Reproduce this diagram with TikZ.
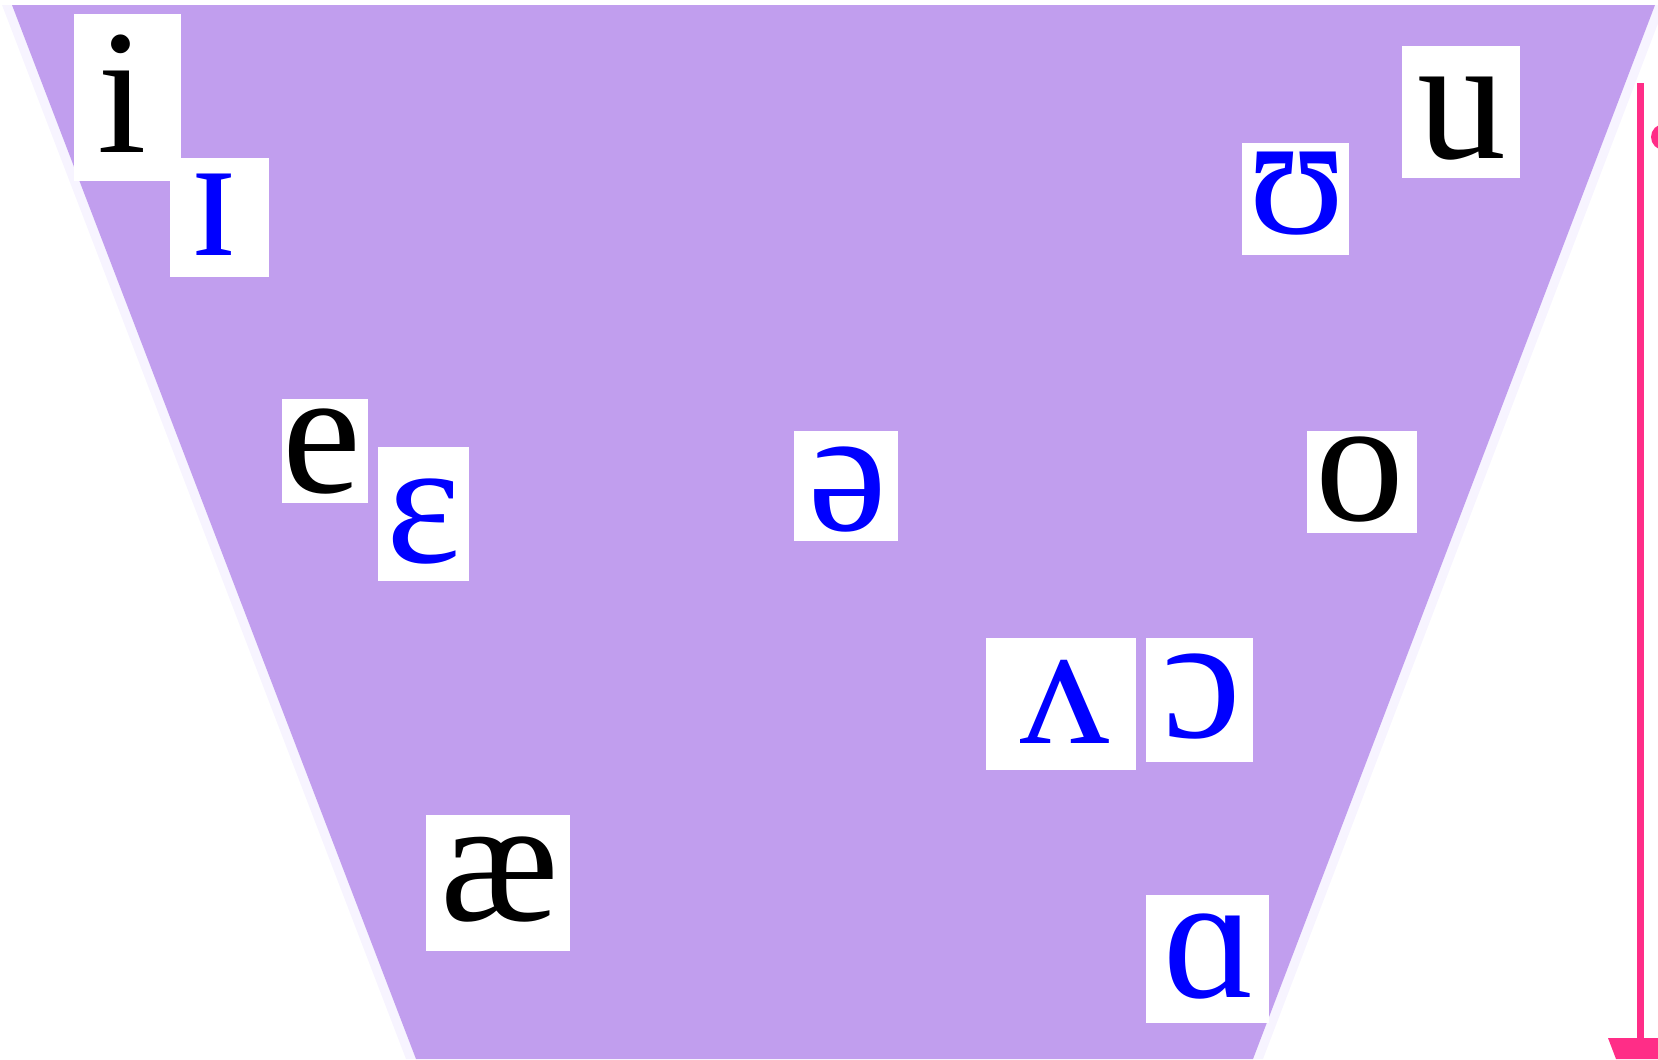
\documentclass[tikz,border=0pt]{standalone}
\usepackage{fontspec}
\setmainfont{LiberationSerif-Regular.ttf}
\definecolor{trap}{HTML}{C19EEE}
\definecolor{pale}{HTML}{F7F4FF}
\definecolor{pinkline}{HTML}{FF2D87}
\definecolor{ipablue}{HTML}{0000FF}
\tikzset{
  glyph/.style={anchor=base, inner sep=0pt, font=\fontsize{50.5}{60}\selectfont},
  blk/.style={glyph, text=black},
  blu/.style={glyph, text=ipablue},
  wbox/.style={fill=white},
}
\begin{document}
\begin{tikzpicture}[x=0.01cm, y=-0.01cm]
\useasboundingbox (0,0) rectangle (1658,1059);
\clip (0,0) rectangle (1658,1059);
% pale edges
\fill[pale] (2,5) -- (12,5) -- (416,1059) -- (406,1059) -- cycle;
\fill[pale] (1655,5) -- (1665,5) -- (1263,1059) -- (1253,1059) -- cycle;
% trapezoid
\fill[trap] (12,5) -- (1655,5) -- (1253,1059) -- (416,1059) -- cycle;
% white boxes
\fill[wbox] (74,14) rectangle (181,181);
\fill[wbox] (170,158) rectangle (269,277);
\fill[wbox] (1402,46) rectangle (1520,178);
\fill[wbox] (1242,143) rectangle (1349,255);
\fill[wbox] (282,399) rectangle (368,503);
\fill[wbox] (378,447) rectangle (469,581);
\fill[wbox] (794,431) rectangle (898,541);
\fill[wbox] (1307,431) rectangle (1417,533);
\fill[wbox] (986,638) rectangle (1136,770);
\fill[wbox] (1146,638) rectangle (1253,762);
\fill[wbox] (426,815) rectangle (570,951);
\fill[wbox] (1146,895) rectangle (1269,1023);
% glyphs
\node[blk] (i) at (122,152) {i};
\node[blu] (smallI) at (214,255) {ɪ};
\node[blk] (u) at (1462,158) {u};
\node[blu] (upsilon) at (1297,233) {ʊ};
\node[blk] (e) at (322,492) {e};
\node[blu] (epsilon) at (424,562) {ɛ};
\node[blu] (schwa) at (848,530) {ə};
\node[blk] (o) at (1360,520) {o};
\node[blu] (wedge) at (1065,743) {ʌ};
\node[blu] (openo) at (1202,737) {ɔ};
\node[blk] (ash) at (500,920) {æ};
\node[blu] (alpha) at (1210,997) {ɑ};
% pink arrow
\coordinate (ptop) at (1640,83);
\coordinate (pbot) at (1640,1040);
\draw[pinkline, line width=2pt] (ptop) -- (pbot);
\fill[pinkline] (1608,1038) -- (1670,1038) -- (1670,1059) -- (1616,1059) -- cycle;
\fill[pinkline] (1664,137) circle (13);
\end{tikzpicture}
\end{document}
